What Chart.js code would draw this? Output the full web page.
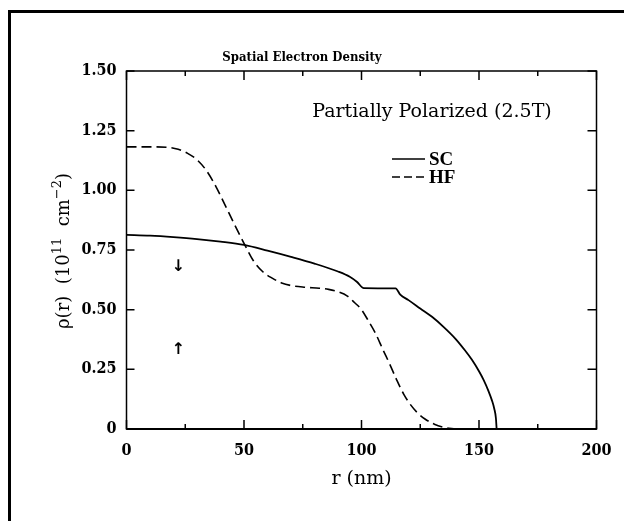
<!DOCTYPE html>
<html>
<head>
<meta charset="utf-8">
<title>Spatial Electron Density</title>
<script src="https://cdn.jsdelivr.net/npm/chart.js@4/dist/chart.umd.min.js"></script>
<style>
  html, body { margin: 0; padding: 0; background: #fff; }
  #wrap { position: relative; width: 624px; height: 521px; }
</style>
</head>
<body>
<div id="wrap"><canvas id="c" width="624" height="521"></canvas></div>
<script>
// Radial electron density rho(r), in units of 1e11 cm^-2, partially polarized at 2.5 T
const scR   = [0, 10, 20, 30, 40, 50, 60, 70, 80, 90, 95, 98, 101, 114.5, 116.5, 120, 125, 130, 135, 140, 144, 147, 150, 152, 154, 155.5, 156.5, 157.2, 157.5];
const scRho = [0.813, 0.810, 0.804, 0.796, 0.785, 0.771, 0.747, 0.721, 0.693, 0.660, 0.638, 0.617, 0.590, 0.589, 0.563, 0.540, 0.505, 0.470, 0.427, 0.378, 0.330, 0.290, 0.242, 0.205, 0.160, 0.120, 0.085, 0.045, 0.0];

const hfR   = [0, 10, 18, 22, 26, 30, 34, 38, 42, 46, 50, 54, 58, 62, 66, 70, 76, 82, 86, 90, 94, 97, 100, 103, 106, 109, 112, 115, 118, 121, 124, 127, 131, 135, 140];
const hfRho = [1.182, 1.182, 1.180, 1.172, 1.155, 1.128, 1.083, 1.017, 0.937, 0.856, 0.778, 0.705, 0.659, 0.632, 0.612, 0.601, 0.594, 0.590, 0.585, 0.575, 0.557, 0.530, 0.500, 0.452, 0.400, 0.335, 0.272, 0.205, 0.145, 0.100, 0.066, 0.042, 0.020, 0.007, 0.0];

const xTickValues = [0, 50, 100, 150, 200];
const xMinorValues = [25, 75, 125, 175];
const yTickValues = [0, 0.25, 0.5, 0.75, 1.0, 1.25, 1.5];

const seriesNames = ['SC', 'HF'];
// spin direction markers, placed in data coordinates (r, rho)
const spinMarks = [
  { text: '\u2193', r: 22, rho: 0.68 },
  { text: '\u2191', r: 22, rho: 0.33 }
];

const SERIF = '"DejaVu Serif", "Liberation Serif", serif';
const SERIF_BOLD = '"DejaVu Serif Condensed", "DejaVu Serif", serif';
const LEGEND_FONT = '"Liberation Serif", serif';

const decorPlugin = {
  id: 'decor',
  beforeDraw(chart) {
    const ctx = chart.ctx;
    ctx.save();
    ctx.fillStyle = '#fff';
    ctx.fillRect(0, 0, chart.width, chart.height);
    // outer frame (top and left edges)
    ctx.fillStyle = '#000';
    ctx.fillRect(8, 10, chart.width - 8, 3);
    ctx.fillRect(8, 10, 3, chart.height - 10);
    ctx.restore();
  },
  afterDraw(chart) {
    const ctx = chart.ctx;
    const a = chart.chartArea;
    const xs = chart.scales.x, ys = chart.scales.y;
    ctx.save();
    ctx.strokeStyle = '#000';
    ctx.fillStyle = '#000';

    // plot frame
    ctx.lineWidth = 1.5;
    ctx.strokeRect(a.left, a.top, a.right - a.left, a.bottom - a.top);
    ctx.lineWidth = 2;
    ctx.beginPath();
    ctx.moveTo(a.left, a.bottom); ctx.lineTo(a.right, a.bottom);
    ctx.stroke();

    // inward ticks
    ctx.lineWidth = 1.5;
    ctx.beginPath();
    xTickValues.forEach(v => {
      const p = xs.getPixelForValue(v);
      ctx.moveTo(p, a.bottom); ctx.lineTo(p, a.bottom - 9);
      ctx.moveTo(p, a.top); ctx.lineTo(p, a.top + 9);
    });
    xMinorValues.forEach(v => {
      const p = xs.getPixelForValue(v);
      ctx.moveTo(p, a.bottom); ctx.lineTo(p, a.bottom - 5);
      ctx.moveTo(p, a.top); ctx.lineTo(p, a.top + 5);
    });
    yTickValues.forEach(v => {
      const p = ys.getPixelForValue(v);
      ctx.moveTo(a.left, p); ctx.lineTo(a.left + 8, p);
      ctx.moveTo(a.right, p); ctx.lineTo(a.right - 9, p);
    });
    ctx.stroke();

    // title
    ctx.textAlign = 'center';
    ctx.textBaseline = 'middle';
    ctx.font = 'bold 13px ' + SERIF_BOLD;
    ctx.fillText('Spatial Electron Density', 302, 58);

    // condition label
    ctx.font = '19px ' + SERIF;
    ctx.fillText('Partially Polarized (2.5T)', 432, 112);

    // legend
    const lx0 = 392, lx1 = 425;
    const legendY = [159, 177];
    ctx.lineWidth = 1.6;
    ctx.setLineDash([]);
    ctx.beginPath(); ctx.moveTo(lx0, legendY[0]); ctx.lineTo(lx1, legendY[0]); ctx.stroke();
    ctx.setLineDash([8, 4]);
    ctx.beginPath(); ctx.moveTo(lx0, legendY[1]); ctx.lineTo(lx1, legendY[1]); ctx.stroke();
    ctx.setLineDash([]);
    ctx.textAlign = 'left';
    ctx.font = 'bold 19px ' + LEGEND_FONT;
    seriesNames.forEach((n, i) => ctx.fillText(n, lx1 + 4, legendY[i] + 1));

    // spin arrows
    ctx.textAlign = 'center';
    ctx.font = 'bold 16px "DejaVu Sans", sans-serif';
    spinMarks.forEach(m => {
      ctx.fillText(m.text, xs.getPixelForValue(m.r), ys.getPixelForValue(m.rho));
    });

    // x axis title
    ctx.font = '19px ' + SERIF;
    ctx.fillText('r (nm)', (a.left + a.right) / 2, 479);

    // y axis title with superscripts
    ctx.translate(62, (a.top + a.bottom) / 2 + 1);
    ctx.rotate(-Math.PI / 2);
    const big = '18px ' + SERIF, small = '13px ' + SERIF;
    const parts = [
      { t: '\u03C1(r)  (10', f: big, dy: 0 },
      { t: '11', f: small, dy: -8 },
      { t: '  cm', f: big, dy: 0 },
      { t: '\u22122', f: small, dy: -8 },
      { t: ')', f: big, dy: 0 }
    ];
    let total = 0;
    parts.forEach(p => { ctx.font = p.f; p.w = ctx.measureText(p.t).width; total += p.w; });
    let cx = -total / 2;
    ctx.textAlign = 'left';
    ctx.textBaseline = 'alphabetic';
    parts.forEach(p => { ctx.font = p.f; ctx.fillText(p.t, cx, 7 + p.dy); cx += p.w; });
    ctx.restore();
  }
};

new Chart(document.getElementById('c'), {
  type: 'line',
  data: {
    datasets: [
      {
        label: seriesNames[0],
        data: scR.map((r, i) => ({ x: r, y: scRho[i] })),
        borderColor: '#000',
        borderWidth: 1.8,
        pointRadius: 0,
        cubicInterpolationMode: 'monotone',
        fill: false
      },
      {
        label: seriesNames[1],
        data: hfR.map((r, i) => ({ x: r, y: hfRho[i] })),
        borderColor: '#000',
        borderWidth: 1.6,
        borderDash: [10, 5],
        pointRadius: 0,
        cubicInterpolationMode: 'monotone',
        fill: false
      }
    ]
  },
  options: {
    responsive: false,
    animation: false,
    events: [],
    layout: { padding: { left: 0, right: 27.5, top: 71, bottom: 0 } },
    plugins: { legend: { display: false }, tooltip: { enabled: false }, title: { display: false } },
    scales: {
      x: {
        type: 'linear',
        min: 0, max: 200,
        afterFit: s => { s.height = 92; },
        afterBuildTicks: s => { s.ticks = xTickValues.map(v => ({ value: v })); },
        grid: { display: false, drawTicks: false },
        border: { display: false },
        ticks: {
          color: '#000',
          padding: 12,
          maxRotation: 0,
          font: { family: SERIF_BOLD, size: 16, weight: 'bold' },
          callback: v => String(v)
        }
      },
      y: {
        type: 'linear',
        min: 0, max: 1.5,
        afterFit: s => { s.width = 126.5; },
        afterBuildTicks: s => { s.ticks = yTickValues.map(v => ({ value: v })); },
        grid: { display: false, drawTicks: false },
        border: { display: false },
        ticks: {
          color: '#000',
          padding: 10,
          font: { family: SERIF_BOLD, size: 16, weight: 'bold' },
          callback: v => (v === 0 ? '0' : v.toFixed(2))
        }
      }
    }
  },
  plugins: [decorPlugin]
});
</script>
</body>
</html>
